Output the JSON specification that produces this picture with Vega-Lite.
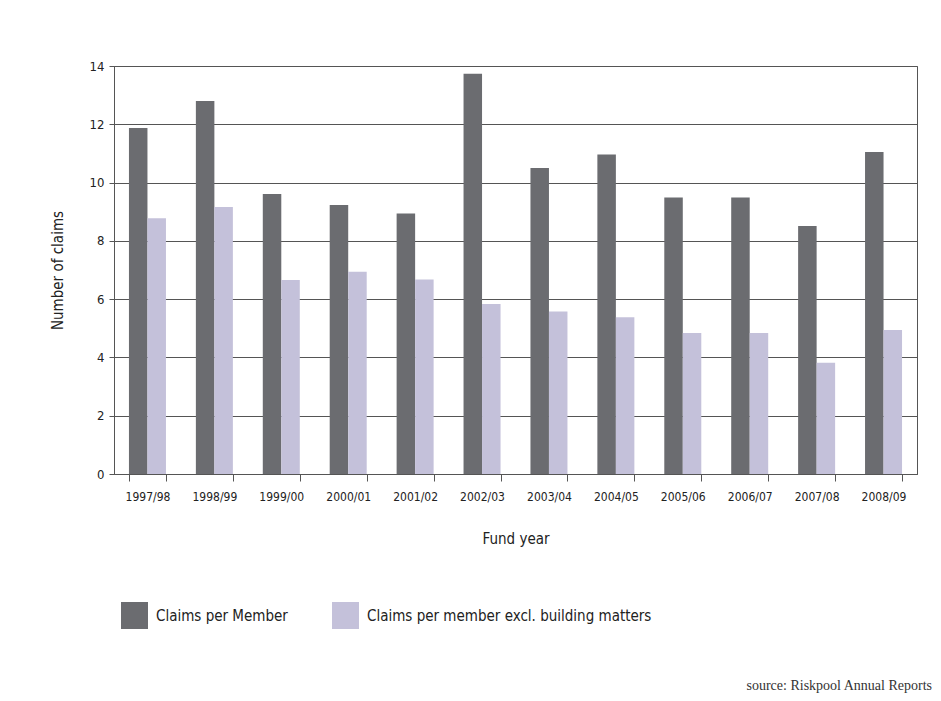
{
  "$schema": "https://vega.github.io/schema/vega-lite/v6.json",
  "autosize": {"type": "none"},
  "width": 803,
  "height": 408,
  "padding": {"left": 114, "top": 66, "right": 24, "bottom": 227},
  "background": "white",
  "title": {
    "text": "source: Riskpool Annual Reports",
    "orient": "bottom",
    "anchor": "end",
    "offset": 50,
    "dx": 15,
    "font": "Liberation Serif",
    "fontSize": 14,
    "fontWeight": "normal",
    "color": "#333333"
  },
  "config": {
    "font": "DejaVu Sans Condensed, sans-serif",
    "view": {"stroke": "#555555", "strokeWidth": 1}
  },
  "data": {
    "values": [
      {"year": "1997/98", "series": "Claims per Member", "value": 11.87},
      {"year": "1997/98", "series": "Claims per member excl. building matters", "value": 8.78},
      {"year": "1998/99", "series": "Claims per Member", "value": 12.8},
      {"year": "1998/99", "series": "Claims per member excl. building matters", "value": 9.16},
      {"year": "1999/00", "series": "Claims per Member", "value": 9.61},
      {"year": "1999/00", "series": "Claims per member excl. building matters", "value": 6.66},
      {"year": "2000/01", "series": "Claims per Member", "value": 9.23},
      {"year": "2000/01", "series": "Claims per member excl. building matters", "value": 6.94},
      {"year": "2001/02", "series": "Claims per Member", "value": 8.94},
      {"year": "2001/02", "series": "Claims per member excl. building matters", "value": 6.67},
      {"year": "2002/03", "series": "Claims per Member", "value": 13.73},
      {"year": "2002/03", "series": "Claims per member excl. building matters", "value": 5.83},
      {"year": "2003/04", "series": "Claims per Member", "value": 10.5},
      {"year": "2003/04", "series": "Claims per member excl. building matters", "value": 5.58},
      {"year": "2004/05", "series": "Claims per Member", "value": 10.96},
      {"year": "2004/05", "series": "Claims per member excl. building matters", "value": 5.38},
      {"year": "2005/06", "series": "Claims per Member", "value": 9.49},
      {"year": "2005/06", "series": "Claims per member excl. building matters", "value": 4.84},
      {"year": "2006/07", "series": "Claims per Member", "value": 9.49},
      {"year": "2006/07", "series": "Claims per member excl. building matters", "value": 4.84},
      {"year": "2007/08", "series": "Claims per Member", "value": 8.51},
      {"year": "2007/08", "series": "Claims per member excl. building matters", "value": 3.82},
      {"year": "2008/09", "series": "Claims per Member", "value": 11.05},
      {"year": "2008/09", "series": "Claims per member excl. building matters", "value": 4.94}
    ]
  },
  "mark": {"type": "bar"},
  "encoding": {
    "x": {
      "field": "year",
      "type": "nominal",
      "sort": null,
      "scale": {"paddingInner": 0.447, "paddingOuter": 0.2235},
      "axis": {
        "title": "Fund year",
        "titleFontSize": 15,
        "titleFontWeight": "normal",
        "titleColor": "#222222",
        "titlePadding": 29,
        "labelAngle": 0,
        "labelFontSize": 12,
        "labelColor": "#222222",
        "labelPadding": 10,
        "tickBand": "extent",
        "tickSize": 7,
        "tickColor": "#555555",
        "domainColor": "#555555",
        "grid": false
      }
    },
    "xOffset": {"field": "series", "type": "nominal", "sort": null},
    "y": {
      "field": "value",
      "type": "quantitative",
      "scale": {"domain": [0, 14], "nice": false},
      "axis": {
        "title": "Number of claims",
        "titleFontSize": 15,
        "titleFontWeight": "normal",
        "titleColor": "#222222",
        "titlePadding": 24,
        "values": [0, 2, 4, 6, 8, 10, 12, 14],
        "labelFontSize": 13,
        "labelColor": "#222222",
        "labelPadding": 5,
        "tickSize": 5,
        "tickColor": "#555555",
        "domainColor": "#555555",
        "gridColor": "#555555",
        "gridWidth": 1,
        "gridOpacity": 1
      }
    },
    "color": {
      "field": "series",
      "type": "nominal",
      "sort": null,
      "scale": {
        "domain": ["Claims per Member", "Claims per member excl. building matters"],
        "range": ["#6b6c70", "#c4c1da"]
      },
      "legend": {
        "orient": "none",
        "legendX": 7,
        "legendY": 536,
        "direction": "horizontal",
        "title": null,
        "symbolType": "square",
        "symbolSize": 729,
        "symbolStrokeWidth": 0,
        "symbolOpacity": 1,
        "labelFontSize": 15,
        "labelColor": "#222222",
        "labelOffset": 8,
        "labelLimit": 400,
        "columnPadding": 44,
        "padding": 0
      }
    }
  }
}
